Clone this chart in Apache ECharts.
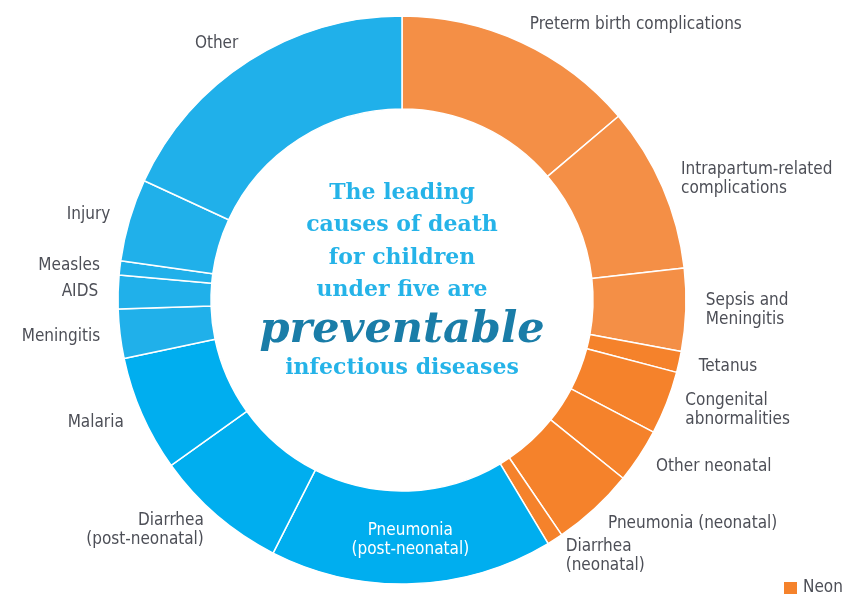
<!DOCTYPE html>
<html lang="en">
<head>
  <meta charset="UTF-8">
  <title>causes of death under five</title>
  <style>
    html, body { margin: 0; padding: 0; background: #fff; }
    #chart { width: 842px; height: 596px; }
  </style>
</head>
<body>
  <div id="chart"></div>
  <script src="https://cdn.jsdelivr.net/npm/echarts@6/dist/echarts.min.js"></script>
  <script>
    // causes, clockwise from the top (percent of deaths)
    var causes = [
      'Preterm birth complications',
      'Intrapartum-related\ncomplications',
      'Sepsis and\nMeningitis',
      'Tetanus',
      'Congenital\nabnormalities',
      'Other neonatal',
      'Pneumonia (neonatal)',
      'Diarrhea\n(neonatal)',
      'Pneumonia\n(post-neonatal)',
      'Diarrhea\n(post-neonatal)',
      'Malaria',
      'Meningitis',
      'AIDS',
      'Measles',
      'Injury',
      'Other'
    ]
    var shares = [13.8, 9.4, 4.7, 1.2, 3.6, 3.1, 4.7, 0.9, 16.1, 7.6, 6.6, 2.8, 1.9, 0.8, 4.7, 18.1]
    var neonatal = [1, 1, 1, 1, 1, 1, 1, 1, 0, 0, 0, 0, 0, 0, 0, 0]
    var textured = [1, 1, 1, 0, 0, 0, 0, 0, 0, 0, 0, 1, 1, 1, 1, 1]
    var headline = ['The leading', 'causes of death', 'for children', 'under five are']

    var orange = '#f5822b'
    var orangeSoft = '#f48f46'
    var blue = '#00aeef'
    var blueSoft = '#20b0ea'
    var labelFont = '"DejaVu Sans Condensed", "DejaVu Sans", sans-serif'

    var data = causes.map(function (name, i) {
      var color
      if (neonatal[i]) color = textured[i] ? orangeSoft : orange
      else color = textured[i] ? blueSoft : blue
      var item = {
        name: name,
        value: shares[i],
        itemStyle: { color: color }
      }
      if (name === 'Pneumonia\n(post-neonatal)') {
        item.label = {
          position: 'inside',
          color: '#fff',
          align: 'center',
          lineHeight: 19
        }
      }
      return item
    })

    var cx = 402
    var cy = 300
    var lineFont = 'bold 22px "DejaVu Serif"'
    var graphics = headline.map(function (t, i) {
      return {
        type: 'text',
        x: cx,
        y: 182 + i * 32.5,
        style: {
          text: t,
          font: lineFont,
          fill: '#25b3e8',
          align: 'center'
        }
      }
    })
    graphics.push({
      type: 'text',
      x: cx,
      y: 309,
      style: {
        text: 'preventable',
        font: 'italic bold 43px "DejaVu Serif"',
        fill: '#1a7da8',
        align: 'center'
      }
    })
    graphics.push({
      type: 'text',
      x: cx,
      y: 357,
      style: {
        text: 'infectious diseases',
        font: lineFont,
        fill: '#25b3e8',
        align: 'center'
      }
    })
    // legend swatch, cut by the right edge as in the source
    graphics.push({
      type: 'rect',
      shape: { x: 784, y: 582, width: 13, height: 12 },
      style: { fill: orange }
    })
    graphics.push({
      type: 'text',
      x: 803,
      y: 579,
      style: {
        text: 'Neonatal',
        font: '17px ' + labelFont,
        fill: '#4d4f57'
      }
    })

    var chart = echarts.init(document.getElementById('chart'))
    chart.setOption({
      animation: false,
      series: [
        {
          type: 'pie',
          center: [cx, cy],
          radius: [191, 284],
          startAngle: 90,
          clockwise: true,
          avoidLabelOverlap: false,
          itemStyle: {
            borderColor: '#fff',
            borderWidth: 1.5
          },
          label: {
            show: true,
            position: 'outside',
            color: '#4d4f57',
            fontFamily: labelFont,
            fontSize: 17,
            lineHeight: 19,
            distanceToLabelLine: 0
          },
          labelLine: {
            show: false,
            length: 20,
            length2: 0
          },
          emphasis: { disabled: true },
          data: data
        }
      ],
      graphic: graphics
    })
  </script>
</body>
</html>
